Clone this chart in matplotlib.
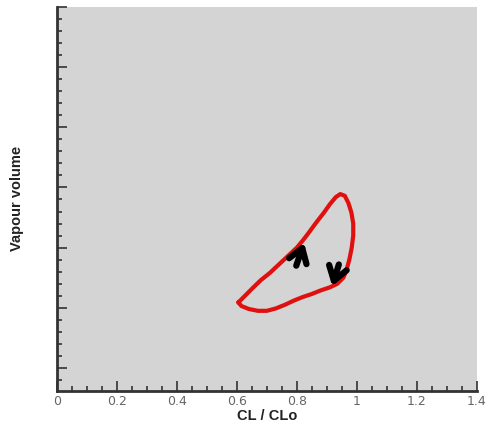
import matplotlib.pyplot as plt
from matplotlib.ticker import MultipleLocator, NullFormatter

# hysteresis loop (clockwise)
cl_ratio = [0.605, 0.615, 0.635, 0.655, 0.68, 0.71, 0.74, 0.77, 0.80, 0.82,
            0.84, 0.865, 0.89, 0.91, 0.93, 0.945, 0.96, 0.972, 0.982, 0.988,
            0.988, 0.983, 0.975, 0.965, 0.955, 0.935, 0.91, 0.88, 0.85,
            0.82, 0.79, 0.76, 0.73, 0.70, 0.67, 0.64, 0.615, 0.605]
vapour = [2.09, 2.14, 2.24, 2.34, 2.46, 2.58, 2.72, 2.86, 3.00, 3.12,
          3.25, 3.42, 3.58, 3.72, 3.84, 3.89, 3.86, 3.74, 3.58, 3.40,
          3.20, 3.00, 2.80, 2.62, 2.50, 2.40, 2.34, 2.29, 2.23,
          2.18, 2.12, 2.05, 1.99, 1.95, 1.95, 1.98, 2.03, 2.09]

# direction arrows: (tail, head)
arrows = [((0.798, 2.70), (0.824, 3.08)),
          ((0.940, 2.72), (0.918, 2.36))]

fig = plt.figure(figsize=(4.87, 4.30), dpi=100)
ax = fig.add_axes([0.117, 0.091, 0.862, 0.893])
ax.set_facecolor('#d4d4d4')

ax.plot(cl_ratio, vapour, color='#e0100f', lw=3, solid_capstyle='round',
        solid_joinstyle='round')

for tail, head in arrows:
    ax.annotate('', xy=head, xytext=tail,
                arrowprops=dict(arrowstyle='->,head_length=0.45,head_width=0.3',
                                color='black', lw=4.5, mutation_scale=22,
                                shrinkA=0, shrinkB=0))

ax.set_xlim(0, 1.4)
ax.set_ylim(0.62, 7.0)
ax.xaxis.set_major_locator(MultipleLocator(0.2))
ax.xaxis.set_minor_locator(MultipleLocator(0.05))
ax.yaxis.set_major_locator(MultipleLocator(1))
ax.yaxis.set_minor_locator(MultipleLocator(0.2))
ax.yaxis.set_major_formatter(NullFormatter())
ax.set_xticks([0, 0.2, 0.4, 0.6, 0.8, 1.0, 1.2, 1.4])
ax.set_xticklabels(['0', '0.2', '0.4', '0.6', '0.8', '1', '1.2', '1.4'])

ax.tick_params(which='both', direction='in', color='#333333', width=1.2)
ax.tick_params(which='major', length=7, labelsize=9, labelcolor='#666666', pad=3)
ax.tick_params(which='minor', length=3.5)

for side in ['top', 'right']:
    ax.spines[side].set_visible(False)
for side in ['left', 'bottom']:
    ax.spines[side].set_linewidth(2)
    ax.spines[side].set_color('#333333')

ax.set_xlabel('CL / CLo', fontsize=10.5, fontweight='bold',
              family='Liberation Sans', color='#222222', labelpad=1)
ax.set_ylabel('Vapour volume', fontsize=10.5, fontweight='bold',
              family='Liberation Sans', color='#222222', labelpad=20)

fig.savefig('out.png', dpi=100)
